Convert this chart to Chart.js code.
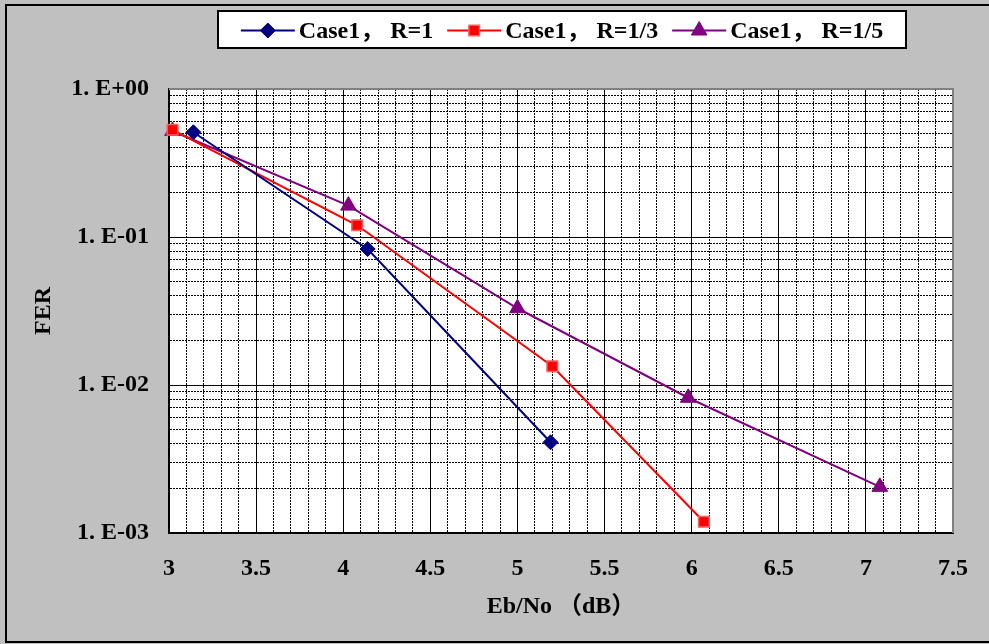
<!DOCTYPE html>
<html>
<head>
<meta charset="utf-8">
<script src="https://cdn.jsdelivr.net/npm/chart.js@4"></script>
<style>
  html, body { margin: 0; padding: 0; background: #C0C0C0; }
  canvas { display: block; }
</style>
</head>
<body>
<canvas id="fer" width="989" height="644"></canvas>
<script>
// === data ===
const seriesLabels = ["Case1， R=1", "Case1， R=1/3", "Case1， R=1/5"];
const ebnoR1 = [3.14, 4.14, 5.19];
const ferR1 = [0.51, 0.083, 0.0041];
const ebnoR13 = [3.02, 4.08, 5.20, 6.07];
const ferR13 = [0.53, 0.12, 0.0134, 0.00119];
const ebnoR15 = [3.02, 4.03, 5.00, 5.98, 7.08];
const ferR15 = [0.52, 0.163, 0.033, 0.0082, 0.00205];

const xTickValues = [3, 3.5, 4, 4.5, 5, 5.5, 6, 6.5, 7, 7.5];
const xTickLabels = ["3", "3.5", "4", "4.5", "5", "5.5", "6", "6.5", "7", "7.5"];
const yDecades = [1, 0.1, 0.01, 0.001];
const yTickLabels = ["1. E+00", "1. E-01", "1. E-02", "1. E-03"];

const FONT = "'Liberation Serif', 'Noto Sans CJK SC', serif";

// gridline positions: every 0.1 dB, and 1..9 per decade
const xGrid = [];
for (let i = 0; i <= 45; i++) xGrid.push(Math.round(30 + i) / 10);
const yGrid = [1];
for (const d of [0.001, 0.01, 0.1]) {
  for (let k = 1; k <= 9; k++) yGrid.push(parseFloat((k * d).toPrecision(3)));
}

const xIndex = (v) => xTickValues.findIndex((t) => Math.abs(t - v) < 1e-9);
const yIndex = (v) => yDecades.findIndex((d) => Math.abs(d - v) / d < 1e-6);

function toPoints(xs, ys) {
  return xs.map((x, i) => ({ x, y: ys[i] }));
}

// === background, frames and legend ===
const framePlugin = {
  id: "frame",
  beforeDraw(chart) {
    const { ctx, chartArea: a } = chart;
    ctx.save();
    ctx.fillStyle = "#C0C0C0";
    ctx.fillRect(0, 0, chart.width, chart.height);
    ctx.strokeStyle = "#000";
    ctx.lineWidth = 2;
    ctx.strokeRect(6, 5, chart.width + 20, chart.height - 7);
    ctx.fillStyle = "#fff";
    ctx.fillRect(a.left, a.top, a.right - a.left, a.bottom - a.top);
    ctx.restore();
  },
  beforeDatasetsDraw(chart) {
    const { ctx, chartArea: a } = chart;
    ctx.save();
    ctx.strokeStyle = "#808080";
    ctx.lineWidth = 2;
    ctx.beginPath();
    ctx.moveTo(a.left, a.top);
    ctx.lineTo(a.right, a.top);
    ctx.lineTo(a.right, a.bottom);
    ctx.stroke();
    ctx.restore();
  },
  afterDraw(chart) {
    const { ctx } = chart;
    const box = { x: 218, y: 11, w: 688, h: 37 };
    ctx.save();
    ctx.fillStyle = "#fff";
    ctx.fillRect(box.x, box.y, box.w, box.h);
    ctx.strokeStyle = "#000";
    ctx.lineWidth = 2;
    ctx.strokeRect(box.x, box.y, box.w, box.h);

    ctx.font = "bold 24px " + FONT;
    ctx.textBaseline = "middle";
    const lineLen = 54, gap = 4, itemGap = 14;
    const ds = chart.data.datasets;
    const widths = ds.map((d) => ctx.measureText(d.label).width);
    const total = widths.reduce((s, w) => s + lineLen + gap + w, 0) + itemGap * (ds.length - 1);
    let x = box.x + (box.w - total) / 2;
    const cy = box.y + box.h / 2 + 1;
    ds.forEach((d, i) => {
      ctx.strokeStyle = d.borderColor;
      ctx.lineWidth = d.borderWidth;
      ctx.beginPath();
      ctx.moveTo(x, cy);
      ctx.lineTo(x + lineLen, cy);
      ctx.stroke();
      ctx.fillStyle = d.pointBackgroundColor;
      ctx.strokeStyle = d.pointBorderColor;
      ctx.lineWidth = d.pointBorderWidth;
      Chart.helpers.drawPoint(ctx, {
        pointStyle: d.pointStyle, radius: d.pointRadius,
        borderWidth: d.pointBorderWidth, rotation: 0
      }, x + lineLen / 2, cy);
      ctx.fillStyle = "#000";
      ctx.fillText(d.label, x + lineLen + gap, cy + 1);
      x += lineLen + gap + widths[i] + itemGap;
    });
    ctx.restore();
  }
};

const dashFor = (isMajor) => (ctx) => (ctx.tick && !isMajor(ctx.tick.value) ? [2, 1] : []);

new Chart(document.getElementById("fer"), {
  type: "line",
  data: {
    datasets: [
      {
        label: seriesLabels[0], data: toPoints(ebnoR1, ferR1),
        borderColor: "#000080", borderWidth: 2,
        pointStyle: "rectRot", pointRadius: 7.5,
        pointBackgroundColor: "#000080", pointBorderColor: "#000080", pointBorderWidth: 1
      },
      {
        label: seriesLabels[1], data: toPoints(ebnoR13, ferR13),
        borderColor: "#FF0000", borderWidth: 2,
        pointStyle: "rect", pointRadius: 7.5,
        pointBackgroundColor: "#FF0000", pointBorderColor: "#FF6060", pointBorderWidth: 1.5
      },
      {
        label: seriesLabels[2], data: toPoints(ebnoR15, ferR15),
        borderColor: "#800080", borderWidth: 2,
        pointStyle: "triangle", pointRadius: 9,
        pointBackgroundColor: "#800080", pointBorderColor: "#800080", pointBorderWidth: 1
      }
    ].map((d) => Object.assign(d, { fill: false, tension: 0, clip: false }))
  },
  options: {
    responsive: false,
    animation: false,
    devicePixelRatio: 1,
    layout: { padding: { left: 0, top: 89, right: 30, bottom: 0 } },
    plugins: { legend: { display: false }, tooltip: { enabled: false } },
    scales: {
      x: {
        type: "linear", min: 3, max: 7.5,
        afterFit: (s) => { s.height = 111; },
        afterBuildTicks: (s) => { s.ticks = xGrid.map((v) => ({ value: v })); },
        grid: { color: "#000", lineWidth: 1, drawTicks: false },
        border: { display: true, color: "#000", width: 2, dash: dashFor((v) => xIndex(v) >= 0) },
        ticks: {
          autoSkip: false, maxRotation: 0, padding: 21, color: "#000",
          font: { family: FONT, size: 24, weight: "bold" },
          callback: (v) => { const i = xIndex(v); return i >= 0 ? xTickLabels[i] : ""; }
        },
        title: {
          display: true, text: "Eb/No （dB）", color: "#000",
          font: { family: FONT, size: 24, weight: "bold" },
          padding: { top: 0, bottom: 23 }
        }
      },
      y: {
        type: "logarithmic", min: 0.001, max: 1,
        afterFit: (s) => { s.width = 169; },
        afterBuildTicks: (s) => { s.ticks = yGrid.map((v) => ({ value: v })); },
        grid: { color: "#000", lineWidth: 1, drawTicks: false },
        border: { display: true, color: "#000", width: 2, dash: dashFor((v) => yIndex(v) >= 0) },
        ticks: {
          autoSkip: false, padding: 20, color: "#000",
          font: { family: FONT, size: 24, weight: "bold" },
          callback: (v) => { const i = yIndex(v); return i >= 0 ? yTickLabels[i] : ""; }
        },
        title: {
          display: true, text: "FER", color: "#000",
          font: { family: FONT, size: 24, weight: "bold" },
          padding: { top: 29, bottom: 0 }
        }
      }
    }
  },
  plugins: [framePlugin]
});
</script>
</body>
</html>
